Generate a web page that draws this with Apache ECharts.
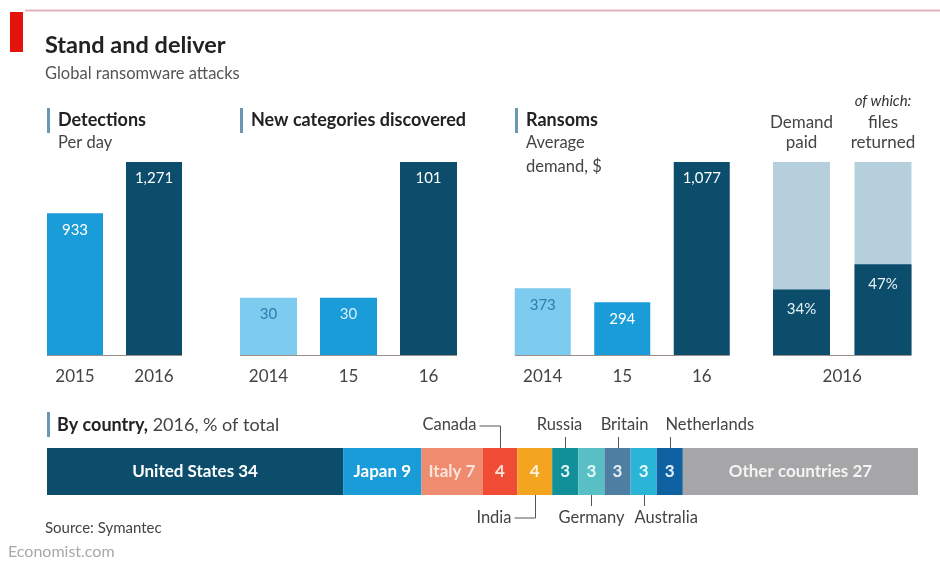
<!DOCTYPE html>
<html>
<head>
<meta charset="utf-8">
<script src="https://cdn.jsdelivr.net/npm/echarts@6/dist/echarts.min.js"></script>
<style>
html,body{margin:0;padding:0;background:#fff;}
#c{width:940px;height:562px;}
</style>
</head>
<body>
<div id="c"></div>
<script>
// ---- data ----
const detectionYears = ['2015', '2016'];
const detectionValues = [933, 1271];
const categoryYears = ['2014', '15', '16'];
const categoryValues = [30, 30, 101];
const ransomYears = ['2014', '15', '16'];
const ransomValues = [373, 294, 1077];
const paymentLabels = ['Demand\npaid', 'files\nreturned'];
const paymentValues = [34, 47];
const paymentYear = '2016';
const countryNames = ['United States', 'Japan', 'Italy', 'Canada', 'India', 'Russia', 'Germany', 'Britain', 'Australia', 'Netherlands', 'Other countries'];
const countryShares = [34, 9, 7, 4, 4, 3, 3, 3, 3, 3, 27];
const countryYear = '2016';

// ---- styles ----
const FONT = 'Lato, "Open Sans", sans-serif';
const NAVY = '#0b4d6b', CYAN = '#1a9cd8', LIGHT = '#7dcbef', BACK = '#b6cfdc';
const countryColors = ['#0b4d6b', '#1a9cd8', '#ef8c6f', '#ef4b35', '#f4a51f', '#12909a', '#58c0c4', '#4f7ea3', '#2ab4d6', '#0f62a2', '#a6a6a8'];
const countryLabelColors = ['#ffffff', '#ffffff', '#fde3da', '#fde3da', '#fff3dc', '#e6f6f7', '#e6f8f8', '#e6eef5', '#e6f8fc', '#e6f0f8', '#f4f4f4'];

const chart = echarts.init(document.getElementById('c'), null, {renderer: 'canvas'});

function catAxis(gi, data, showLabel) {
  return {
    type: 'category', gridIndex: gi, data: data,
    axisLine: {show: false}, axisTick: {show: false}, splitLine: {show: false},
    axisLabel: {show: showLabel, interval: 0, margin: 13, fontFamily: FONT, fontSize: 17, color: '#444'}
  };
}
function valAxis(gi, max) {
  return {type: 'value', gridIndex: gi, min: 0, max: max, show: false, splitLine: {show: false}};
}
function barItems(values, colors, labelColors) {
  return values.map((v, i) => ({
    value: v,
    itemStyle: {color: colors[i]},
    label: {color: labelColors[i]}
  }));
}
const valueLabel = {
  show: true, position: 'insideTop', distance: 9,
  fontFamily: FONT, fontSize: 15, formatter: (p) => p.value.toLocaleString('en-US')
};

const series = [
  {type: 'bar', xAxisIndex: 0, yAxisIndex: 0, barWidth: 56,
   data: barItems(detectionValues, [CYAN, NAVY], ['#ffffff', '#ffffff']), label: valueLabel},
  {type: 'bar', xAxisIndex: 1, yAxisIndex: 1, barWidth: 57,
   data: barItems(categoryValues, [LIGHT, CYAN, NAVY], ['#2a7fae', '#d5effa', '#ffffff']), label: valueLabel},
  {type: 'bar', xAxisIndex: 2, yAxisIndex: 2, barWidth: 56,
   data: barItems(ransomValues, [LIGHT, CYAN, NAVY], ['#2a7fae', '#ffffff', '#ffffff']), label: valueLabel},
  {type: 'bar', xAxisIndex: 3, yAxisIndex: 3, barWidth: 57,
   showBackground: true, backgroundStyle: {color: BACK},
   itemStyle: {color: NAVY},
   data: paymentValues,
   label: {show: true, position: 'insideTop', distance: 12, fontFamily: FONT, fontSize: 15, color: '#e8f3f8', formatter: '{c}%'}}
];
countryNames.forEach((name, i) => {
  series.push({
    type: 'bar', name: name, xAxisIndex: 5, yAxisIndex: 4, stack: 'country', barWidth: '100%',
    itemStyle: {color: countryColors[i]},
    data: [countryShares[i]],
    label: {
      show: true, position: 'inside', fontFamily: FONT, fontSize: 17, fontWeight: 'bold',
      color: countryLabelColors[i],
      formatter: (p) => (countryShares[i] > 5 ? name + ' ' : '') + p.value
    }
  });
});

const option = {
  backgroundColor: '#ffffff',
  animation: false,
  grid: [
    {left: 35.5, top: 162, width: 158, height: 193},
    {left: 228.5, top: 162, width: 240, height: 193},
    {left: 503, top: 162, width: 238.5, height: 193},
    {left: 760.75, top: 162, width: 163, height: 193},
    {left: 47, top: 448, width: 871, height: 47}
  ],
  xAxis: [
    catAxis(0, detectionYears, true),
    catAxis(1, categoryYears, true),
    catAxis(2, ransomYears, true),
    catAxis(3, paymentLabels, false),
    Object.assign(catAxis(3, paymentLabels, true), {position: 'top',
      axisLabel: {show: true, interval: 0, hideOverlap: false, margin: 9, fontFamily: FONT, fontSize: 17, lineHeight: 20, color: '#444'}}),
    {type: 'value', gridIndex: 4, min: 0, max: 100, show: false, splitLine: {show: false}}
  ],
  yAxis: [
    valAxis(0, 'dataMax'),
    valAxis(1, 'dataMax'),
    valAxis(2, 'dataMax'),
    valAxis(3, 100),
    {type: 'category', gridIndex: 4, data: [countryYear], show: false}
  ],
  series: series
};
chart.setOption(option);

// ---- annotations & text ----
const g = [];
function text(x, y, t, o) {
  g.push({type: 'text', x: x, y: y, silent: true,
    style: Object.assign({text: t, fontFamily: FONT, fontSize: 16.5, fill: '#333', textVerticalAlign: 'middle', textAlign: 'left'}, o || {})});
}
function line(x1, y1, x2, y2, color, w) {
  g.push({type: 'line', silent: true, shape: {x1: x1, y1: y1, x2: x2, y2: y2},
    style: {stroke: color || '#555', lineWidth: w || 1}});
}
function rect(x, y, w, h, color) {
  g.push({type: 'rect', silent: true, shape: {x: x, y: y, width: w, height: h}, style: {fill: color}});
}

// top rule and red tag
rect(25, 9.5, 915, 2, '#e6b3bc');
rect(10, 12, 13, 40, '#e3120b');
text(45, 45, 'Stand and deliver', {fontSize: 23.5, fontWeight: 'bold', fill: '#222'});
text(45, 74, 'Global ransomware attacks', {fontSize: 16.5, fill: '#555'});

// panel headers
const MARK = '#6c97b3';
const HEAD = {fontWeight: 'bold', fill: '#222', fontSize: 18};
rect(47, 108, 3, 25, MARK);
text(58, 120, 'Detections', HEAD);
text(58, 143, 'Per day', {fill: '#444'});
rect(240, 108, 3, 25, MARK);
text(251, 120, 'New categories discovered', HEAD);
rect(515, 108, 3, 25, MARK);
text(526, 120, 'Ransoms', HEAD);
text(526, 143, 'Average', {fill: '#444'});
text(526, 167, 'demand, $', {fill: '#444'});
rect(47, 412, 3, 25, MARK);
g.push({type: 'text', x: 57, y: 425, silent: true, style: {
  text: '{b|By country,} 2016, % of total', fontFamily: FONT, fontSize: 18, fill: '#444',
  textVerticalAlign: 'middle', rich: {b: {fontWeight: 'bold', fill: '#222', fontFamily: FONT, fontSize: 18}}}});

// baselines under bar panels
const panels = [
  {xi: 0, yi: 0, cats: detectionYears, hw: 28},
  {xi: 1, yi: 1, cats: categoryYears, hw: 28.5},
  {xi: 2, yi: 2, cats: ransomYears, hw: 28},
  {xi: 3, yi: 3, cats: paymentLabels, hw: 28.5}
];
panels.forEach(p => {
  const x1 = chart.convertToPixel({xAxisIndex: p.xi}, p.cats[0]) - p.hw;
  const x2 = chart.convertToPixel({xAxisIndex: p.xi}, p.cats[p.cats.length - 1]) + p.hw;
  const y = chart.convertToPixel({yAxisIndex: p.yi}, 0);
  line(x1, y + 0.5, x2, y + 0.5, '#9a8f8a', 1);
});

// panel 4 extras
const px0 = chart.convertToPixel({xAxisIndex: 3}, paymentLabels[0]);
const px1 = chart.convertToPixel({xAxisIndex: 3}, paymentLabels[1]);
text(px1, 101, 'of which:', {fontSize: 15, fontStyle: 'italic', fill: '#333', textAlign: 'center'});
text((px0 + px1) / 2, 377, paymentYear, {fill: '#444', textAlign: 'center', fontSize: 17});

// country leader notes
const notes = [
  {name: 'Canada', side: 'top', mode: 'elbow'},
  {name: 'Russia', side: 'top', mode: 'center', dx: -6},
  {name: 'Britain', side: 'top', mode: 'center', dx: 6},
  {name: 'Netherlands', side: 'top', mode: 'left', dx: -5},
  {name: 'India', side: 'bottom', mode: 'elbow'},
  {name: 'Germany', side: 'bottom', mode: 'center'},
  {name: 'Australia', side: 'bottom', mode: 'left', dx: -10}
];
const barCy = chart.convertToPixel({yAxisIndex: 4}, countryYear);
const barTop = barCy - 23.5, barBot = barCy + 23.5;
notes.forEach(n => {
  const idx = countryNames.indexOf(n.name);
  let cum = 0;
  for (let i = 0; i < idx; i++) cum += countryShares[i];
  const cx = Math.round(chart.convertToPixel({xAxisIndex: 5}, cum + countryShares[idx] / 2)) + 0.5;
  const top = n.side === 'top';
  const ty = top ? barTop - 23 : barBot + 23;
  const st = {fontSize: 16.5, fill: '#444'};
  if (n.mode === 'elbow') {
    const ly = top ? ty + 1 : ty;
    line(cx, top ? barTop : barBot, cx, ly);
    line(cx, ly, cx - 21, ly);
    text(cx - 24, ty, n.name, Object.assign(st, {textAlign: 'right'}));
  } else {
    line(cx, top ? barTop : barBot, cx, top ? barTop - 11 : barBot + 11);
    text(cx + (n.dx || 0), ty, n.name, Object.assign(st, {textAlign: n.mode === 'center' ? 'center' : 'left'}));
  }
});

text(45, 528, 'Source: Symantec', {fontSize: 15, fill: '#444'});
text(8, 552, 'Economist.com', {fontSize: 16, fill: '#a8a8a8'});

chart.setOption({graphic: g});
</script>
</body>
</html>
